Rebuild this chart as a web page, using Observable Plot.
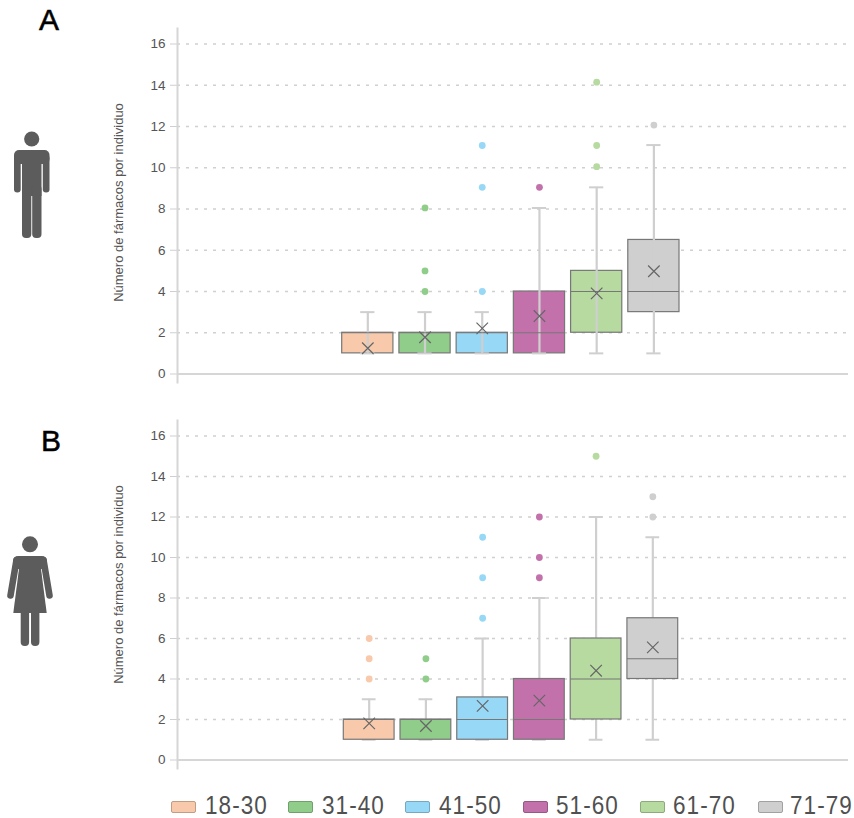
<!DOCTYPE html>
<html>
<head>
<meta charset="utf-8">
<script src="https://cdn.jsdelivr.net/npm/d3@7"></script>
<script src="https://cdn.jsdelivr.net/npm/@observablehq/plot@0.6"></script>
<style>
  html,body{margin:0;padding:0;background:#fff;}
  #page{position:relative;width:854px;height:818px;overflow:hidden;font-family:"Liberation Sans",sans-serif;}
  #page>div.panel{position:absolute;left:0;}
  .letter{position:absolute;font-size:30px;line-height:30px;color:#000;-webkit-text-stroke:.5px #000;}
  .icon{position:absolute;left:0;top:0;}
  #legend{position:absolute;left:0;top:790px;width:854px;height:28px;}
  #legend span{position:absolute;}
  #legend .sw{top:11px;width:23px;height:10px;border-radius:2px;border:.5px solid;border-bottom-width:1px;box-sizing:content-box;}
  #legend .tx{top:3px;font-family:"Liberation Sans",sans-serif;font-size:25px;line-height:25px;color:#505050;letter-spacing:1.2px;white-space:nowrap;transform:scaleX(0.9);transform-origin:left center;}
</style>
</head>
<body>
<div id="page"></div>
<script>
const groups = ["18-30","31-40","41-50","51-60","61-70","71-79"];
const colors = ["#f8c9aa","#90cd8a","#97d8f6","#c271ab","#b6da9f","#cfcfcf"];
const ticks = [0,2,4,6,8,10,12,14,16];
const yLabel = "Número de fármacos por individuo";

// Panel A (hombres)
const aQ1   = [1,1,1,1,2,3];
const aQ3   = [2,2,2,4,5,6.5];
const aMed  = [2,2,2,2,4,4];
const aLow  = [1,1,1,1,1,1];
const aHigh = [3,3,3,8.05,9.05,11.1];
const aMean = [1.25,1.78,2.21,2.81,3.91,4.98];
const aOut  = [[],[4,5,8.05],[4,9.05,11.08],[9.05],[10.05,11.08,14.15],[12.07]];

// Panel B (mujeres)
const bQ1   = [1,1,1,1,2,4];
const bQ3   = [2,2,3.09,4,6,7];
const bMed  = [2,2,2,2,4,5];
const bLow  = [1,1,1,1,1,1];
const bHigh = [3,3,6,8,12,11];
const bMean = [1.81,1.68,2.67,2.93,4.41,5.56];
const bOut  = [[4,5,6],[4,5],[7,9,11],[9,10,12],[15],[12,13]];

const grey="#cfcfcf", edge="#777777";

function panel({q1,q3,med,low,high,mean,out,yRange,xRange,height,top,marginTop,marginBottom,whiskerOnTop,labelDy}){
  const rows = groups.map((g,i)=>({g,color:colors[i],q1:q1[i],q3:q3[i],med:med[i],low:low[i],high:high[i],mean:mean[i]}));
  const outs = groups.flatMap((g,i)=>out[i].map(v=>({g,color:colors[i],v})));
  const tickInset = 18.5;
  const whiskers = [
    Plot.ruleX(rows,{x:"g",y1:"low",y2:"high",stroke:grey,strokeWidth:2.2}),
    Plot.tickY(rows,{x:"g",y:"high",stroke:grey,strokeWidth:2,insetLeft:tickInset,insetRight:tickInset}),
    Plot.tickY(rows,{x:"g",y:"low",stroke:grey,strokeWidth:2,insetLeft:tickInset,insetRight:tickInset})
  ];
  const box = Plot.barY(rows,{x:"g",y1:"q1",y2:"q3",fill:d=>d.color,stroke:edge,strokeWidth:1.2});
  const p = Plot.plot({
    width:854, height, marginLeft:177, marginRight:6, marginTop, marginBottom,
    style:{background:"transparent",overflow:"visible"},
    x:{type:"band",domain:groups,range:xRange,paddingInner:0.105,paddingOuter:0,round:false,axis:null},
    y:{domain:[0,16],range:yRange,axis:null},
    color:{type:"identity"},
    marks:[
      Plot.gridY(ticks.filter(t=>t>0),{stroke:"#d0d0d0",strokeOpacity:1,strokeWidth:1.5,strokeDasharray:"3 6"}),
      Plot.axisY(ticks,{anchor:"left",tickSize:7,tickPadding:5,label:null,stroke:"#cfcfcf",fill:"#555",fontSize:13.5,fontFamily:"'Liberation Sans',sans-serif"}),
      Plot.frame({anchor:"left",stroke:"#d6d6d6",strokeWidth:2}),
      Plot.ruleY([0],{stroke:"#d6d6d6",strokeWidth:2}),
      Plot.text([yLabel],{frameAnchor:"left",textAnchor:"middle",rotate:-90,dx:-59,dy:labelDy,fill:"#555",fontSize:13,fontFamily:"'Liberation Sans',sans-serif",style:{letterSpacing:"0.33px"}}),
      ...(whiskerOnTop?[box,...whiskers]:[...whiskers,box]),
      Plot.tickY(rows,{x:"g",y:"med",stroke:edge,strokeWidth:1.2}),
      Plot.dot(outs,{x:"g",y:"v",r:3.4,fill:d=>d.color,stroke:"none"}),
      Plot.dot(rows,{x:"g",y:"mean",symbol:"times",r:5.3,stroke:"#666",strokeWidth:1.2})
    ]
  });
  const d=document.createElement("div");
  d.className="panel"; d.style.top=top+"px";
  d.appendChild(p);
  document.getElementById("page").appendChild(d);
}

panel({q1:aQ1,q3:aQ3,med:aMed,low:aLow,high:aHigh,mean:aMean,out:aOut,
  yRange:[373.5,43.5],xRange:[341.7,679],height:400,top:0,marginTop:28,marginBottom:18,whiskerOnTop:true,labelDy:-3});
panel({q1:bQ1,q3:bQ3,med:bMed,low:bLow,high:bHigh,mean:bMean,out:bOut,
  yRange:[359.5,35.5],xRange:[343.3,677.7],height:390,top:400,marginTop:20,marginBottom:22,whiskerOnTop:false,labelDy:-10});

// Letters and pictograms
const page=document.getElementById("page");
[["A",39,5],["B",41,426]].forEach(([t,x,y])=>{
  const e=document.createElement("div");e.className="letter";e.textContent=t;
  e.style.left=x+"px";e.style.top=y+"px";page.appendChild(e);
});
page.insertAdjacentHTML("beforeend",`
<svg class="icon" width="60" height="250" fill="#5c5c5c">
  <circle cx="31.7" cy="139" r="7.6"/>
  <rect x="14" y="150" width="35.5" height="14" rx="5"/>
  <rect x="14" y="155" width="6.7" height="37.5" rx="3.3"/>
  <rect x="42.8" y="155" width="6.7" height="37.5" rx="3.3"/>
  <rect x="22" y="151" width="19.5" height="45"/>
  <rect x="22" y="185" width="9.3" height="53" rx="4"/>
  <rect x="32.2" y="185" width="9.3" height="53" rx="4"/>
</svg>
<svg class="icon" width="60" height="660" fill="#5c5c5c" stroke="none">
  <circle cx="30" cy="544.3" r="8"/>
  <rect x="13" y="556" width="34" height="13" rx="5"/>
  <path d="M19.5 565 L13.3 613 H46.7 L40.5 565 Z"/>
  <path d="M16.5 560 L10.5 595.5" stroke="#5c5c5c" stroke-width="6.6" stroke-linecap="round" fill="none"/>
  <path d="M43.5 560 L49.5 595.5" stroke="#5c5c5c" stroke-width="6.6" stroke-linecap="round" fill="none"/>
  <rect x="20.7" y="608" width="8.4" height="38" rx="4"/>
  <rect x="31" y="608" width="8.4" height="38" rx="4"/>
</svg>`);

// Legend
const lg=document.createElement("div");lg.id="legend";
const swX=[171,288,405,523,640,758], txX=[205,322,439,556,673,790];
groups.forEach((g,i)=>{
  const s=document.createElement("span");s.className="sw";
  s.style.left=swX[i]+"px";s.style.background=colors[i];
  s.style.borderColor=d3.color(colors[i]).darker(0.7).formatHex();
  const t=document.createElement("span");t.className="tx";t.textContent=g;
  t.style.left=txX[i]+"px";
  lg.append(s,t);
});
page.appendChild(lg);
</script>
</body>
</html>
